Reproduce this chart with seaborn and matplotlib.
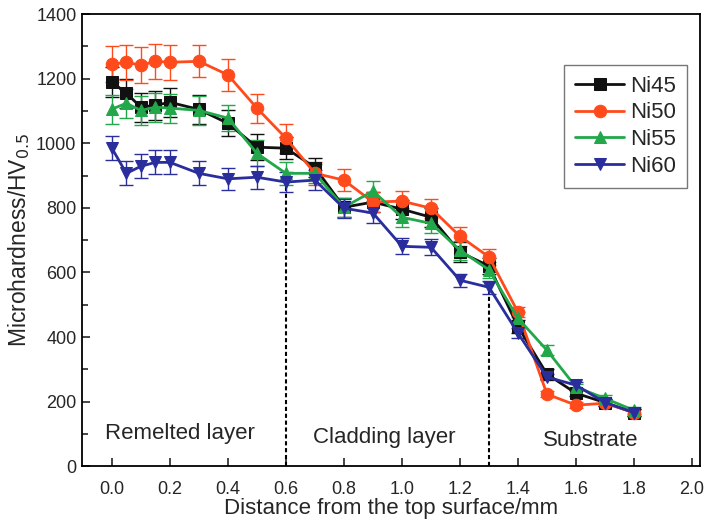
import numpy as np
import pandas as pd
import matplotlib
matplotlib.use("Agg")
import matplotlib.pyplot as plt
import seaborn as sns
from matplotlib.ticker import MultipleLocator

distance = [0.0, 0.05, 0.1, 0.15, 0.2, 0.3, 0.4, 0.5, 0.6, 0.7, 0.8, 0.9, 1.0,
            1.1, 1.2, 1.3, 1.4, 1.5, 1.6, 1.7, 1.8]
ni45 = [1190, 1155, 1112, 1118, 1127, 1105, 1062, 988, 985, 925, 802, 818, 796,
        771, 663, 620, 432, 285, 226, 197, 166]
ni50 = [1245, 1251, 1242, 1254, 1251, 1254, 1212, 1109, 1016, 907, 886, 818, 821,
        799, 712, 648, 477, 223, 189, 195, 166]
ni55 = [1106, 1124, 1102, 1112, 1109, 1102, 1078, 969, 907, 907, 802, 852, 771,
        752, 669, 608, 458, 359, 245, 210, 173]
ni60 = [985, 907, 929, 941, 941, 907, 890, 895, 880, 886, 799, 784, 681,
        678, 576, 554, 412, 276, 251, 197, 166]
err45 = [45, 45, 45, 45, 45, 45, 40, 40, 35, 30, 30, 30, 30, 30, 30, 25, 20, 15, 10, 10, 10]
err50 = [55, 55, 55, 55, 55, 50, 50, 45, 45, 35, 35, 30, 30, 30, 30, 25, 15, 10, 10, 10, 10]
err55 = [45, 45, 45, 45, 45, 45, 40, 40, 35, 30, 30, 30, 30, 30, 30, 25, 20, 15, 10, 10, 10]
err60 = [37, 37, 37, 37, 37, 37, 35, 35, 30, 30, 30, 30, 25, 25, 20, 20, 15, 10, 10, 10, 10]
series_names = ["Ni45", "Ni50", "Ni55", "Ni60"]
boundaries = [0.6, 1.3]
region_labels = ["Remelted layer", "Cladding layer", "Substrate"]

sns.set_theme(style="ticks")
plt.rcParams['font.family'] = ['Liberation Sans', 'DejaVu Sans']

fig = plt.figure(figsize=(7.13, 5.25), dpi=100)
ax = fig.add_axes([0.115, 0.112, 0.867, 0.861])

colors = ["#111111", "#FF4A1C", "#22A84A", "#2A2E9C"]
markers = ["s", "o", "^", "v"]
values = [ni45, ni50, ni55, ni60]
errs = [err45, err50, err55, err60]

for name, vals, err, c, m in zip(series_names, values, errs, colors, markers):
    ax.errorbar(distance, vals, yerr=err, fmt="none", ecolor=c, elinewidth=1.0,
                capsize=5, capthick=1.0, zorder=2)
    df = pd.DataFrame({"x": distance, "y": vals})
    sns.lineplot(data=df, x="x", y="y", ax=ax, color=c, marker=m, markersize=9,
                 markeredgecolor=c, linewidth=2.0, label=name, zorder=3)

for b in boundaries:
    yv = ni60[distance.index(b)]
    ax.vlines(b, 0, yv, colors="black", linestyles=(0, (2.0, 1.3)), linewidth=1.5, zorder=1)

ax.text(0.234, 100, region_labels[0], ha="center", va="center", fontsize=16)
ax.text(0.94, 88, region_labels[1], ha="center", va="center", fontsize=16)
ax.text(1.65, 80, region_labels[2], ha="center", va="center", fontsize=16)

ax.set_xlim(-0.103, 2.028)
ax.set_ylim(0, 1400)
ax.xaxis.set_major_locator(MultipleLocator(0.2))
ax.yaxis.set_major_locator(MultipleLocator(200))
ax.yaxis.set_minor_locator(MultipleLocator(100))
ax.xaxis.set_major_formatter(matplotlib.ticker.FormatStrFormatter('%.1f'))
ax.tick_params(axis="both", which="both", direction="in", labelsize=13, width=1.2)
ax.tick_params(axis="both", which="major", length=6)
ax.tick_params(axis="y", which="minor", length=4)
ax.tick_params(axis="x", which="major", pad=11)
ax.tick_params(axis="y", which="major", pad=4)
for s in ax.spines.values():
    s.set_linewidth(1.3)
    s.set_color("black")

ax.set_xlabel("Distance from the top surface/mm", fontsize=16, labelpad=0)
ax.set_ylabel("Microhardness/HV$_{0.5}$", fontsize=16.5, labelpad=3)

leg = ax.legend(loc="upper left", bbox_to_anchor=(0.780, 0.888), fontsize=16,
                frameon=True, fancybox=False, edgecolor="#555555", handlelength=2.2,
                handletextpad=0.25, borderpad=0.5, labelspacing=0.25,
                borderaxespad=0)
leg.get_frame().set_linewidth(1.0)

fig.savefig("out.png", dpi=100)
